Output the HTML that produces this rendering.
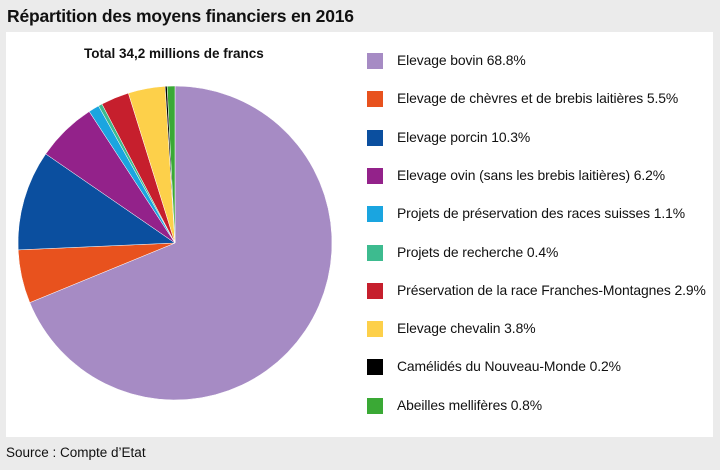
<!DOCTYPE html>
<html><head><meta charset="utf-8"><style>
body{margin:0;width:720px;height:470px;background:#ebebeb;font-family:"Liberation Sans",sans-serif;position:relative;overflow:hidden;color:#111}
#t{position:absolute;left:7px;top:6px;font-size:17.5px;font-weight:bold;letter-spacing:-0.2px}
#p{position:absolute;left:6px;top:32px;width:707px;height:405px;background:#fff}
#tot{position:absolute;left:84px;top:46px;font-size:13.5px;font-weight:bold}
.l{position:absolute;left:367px;width:16px;height:16px}
.lt{position:absolute;left:397px;font-size:13.9px;letter-spacing:-0.1px;white-space:nowrap}
#s{position:absolute;left:6px;top:445px;font-size:13.5px}
svg{position:absolute;left:0;top:0}
</style></head><body>
<div id="t">Répartition des moyens financiers en 2016</div>
<div id="p"></div>
<div id="tot">Total 34,2 millions de francs</div>
<svg width="720" height="470" id="sv"></svg>
<div id="leg"></div>
<div id="s">Source : Compte d’Etat</div>
<script>
var d=[["Elevage bovin 68.8%",68.8,"#a68bc4"],["Elevage de chèvres et de brebis laitières 5.5%",5.5,"#e8521e"],["Elevage porcin 10.3%",10.3,"#0b4f9f"],["Elevage ovin (sans les brebis laitières) 6.2%",6.2,"#93228a"],["Projets de préservation des races suisses 1.1%",1.1,"#1aa5e0"],["Projets de recherche 0.4%",0.4,"#3dbb8f"],["Préservation de la race Franches-Montagnes 2.9%",2.9,"#c61f2d"],["Elevage chevalin 3.8%",3.8,"#fdd04a"],["Camélidés du Nouveau-Monde 0.2%",0.2,"#000000"],["Abeilles mellifères 0.8%",0.8,"#3aa935"]];
var cx=175,cy=243,r=157,a=0,s="",h="";
d.forEach(function(e,i){var b=a+e[1]/100*2*Math.PI;
var x1=cx+r*Math.sin(a),y1=cy-r*Math.cos(a),x2=cx+r*Math.sin(b),y2=cy-r*Math.cos(b);
s+='<path d="M'+cx+','+cy+'L'+x1+','+y1+'A'+r+','+r+' 0 '+((b-a)>Math.PI?1:0)+' 1 '+x2+','+y2+'Z" fill="'+e[2]+'" stroke="#fff" stroke-width="0.5"/>';
a=b;var y=53+i*38.3;
h+='<div class="l" style="top:'+y+'px;background:'+e[2]+'"></div><div class="lt" style="top:'+(y-1)+'px">'+e[0]+'</div>';});
document.getElementById("sv").innerHTML=s;document.getElementById("leg").innerHTML=h;
</script>
</body></html>
